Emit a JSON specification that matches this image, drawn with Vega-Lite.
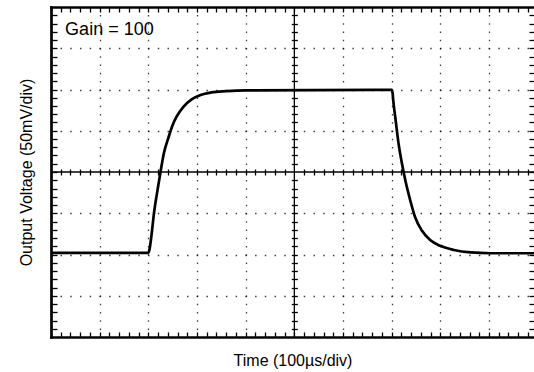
{
  "$schema": "https://vega.github.io/schema/vega-lite/v6.json",
  "width": 483,
  "height": 330,
  "autosize": "none",
  "padding": {"left": 51, "top": 7, "right": 0, "bottom": 35},
  "background": "white",
  "config": {
    "view": {"stroke": null},
    "axis": {
      "labels": false, "domain": false, "ticks": false, "grid": false,
      "tickColor": "#000", "domainColor": "#000", "tickWidth": 1.3,
      "titleFont": "Liberation Sans", "titleFontSize": 16, "titleFontWeight": "normal", "titleColor": "#000"
    }
  },
  "data": {"values": [
    {"t": 0, "v": -1.96}, {"t": 2.0, "v": -1.96}, {"t": 2.02, "v": -1.9}, {"t": 2.068, "v": -1.5},
    {"t": 2.116, "v": -1.0}, {"t": 2.18, "v": -0.5}, {"t": 2.25, "v": 0}, {"t": 2.32, "v": 0.46},
    {"t": 2.41, "v": 0.82}, {"t": 2.49, "v": 1.11}, {"t": 2.58, "v": 1.34}, {"t": 2.72, "v": 1.58},
    {"t": 2.89, "v": 1.76}, {"t": 3.06, "v": 1.86}, {"t": 3.3, "v": 1.93}, {"t": 3.6, "v": 1.96},
    {"t": 4.0, "v": 1.98}, {"t": 7.0, "v": 1.99}, {"t": 7.02, "v": 1.9}, {"t": 7.03, "v": 1.76},
    {"t": 7.08, "v": 1.27}, {"t": 7.14, "v": 0.7}, {"t": 7.21, "v": 0.21}, {"t": 7.28, "v": -0.2},
    {"t": 7.38, "v": -0.68}, {"t": 7.48, "v": -1.09}, {"t": 7.62, "v": -1.42}, {"t": 7.79, "v": -1.65},
    {"t": 8.0, "v": -1.79}, {"t": 8.28, "v": -1.89}, {"t": 8.62, "v": -1.95}, {"t": 9.03, "v": -1.97},
    {"t": 10, "v": -1.97}
  ]},
  "resolve": {"axis": {"x": "independent", "y": "independent"}},
  "layer": [
    {
      "mark": {"type": "point", "opacity": 0},
      "encoding": {
        "x": {"field": "t", "type": "quantitative", "scale": {"domain": [0, 9.924], "nice": false, "zero": false},
          "axis": {"orient": "bottom", "title": null, "grid": true, "values": [1,2,3,4,6,7,8,9],
            "gridDash": [1.5, 6.75], "gridDashOffset": 0.75, "gridColor": "#000", "gridWidth": 1.3, "gridOpacity": 0.75}},
        "y": {"field": "v", "type": "quantitative", "scale": {"domain": [-4, 4], "nice": false, "zero": false},
          "axis": {"orient": "left", "title": null, "grid": true, "values": [-3,-2,-1,1,2,3],
            "gridDash": [1.5, 8.23], "gridDashOffset": 0.75, "gridColor": "#000", "gridWidth": 1.3, "gridOpacity": 0.75}}
      }
    },
    {
      "mark": {"type": "point", "opacity": 0},
      "encoding": {
        "x": {"field": "t", "type": "quantitative", "scale": {"domain": [0, 9.924], "nice": false, "zero": false},
          "axis": {"orient": "bottom", "title": "Time (100µs/div)", "titlePadding": 15, "titleFontSize": 16,
            "domain": true, "domainWidth": 2.7, "domainCap": "square"}},
        "y": {"field": "v", "type": "quantitative", "scale": {"domain": [-4, 4], "nice": false, "zero": false},
          "axis": {"orient": "left", "title": "Output Voltage (50mV/div)", "titlePadding": 17, "titleFontSize": 16,
            "domain": true, "domainWidth": 2.7, "domainCap": "square"}}
      }
    },
    {
      "mark": {"type": "point", "opacity": 0},
      "encoding": {
        "x": {"field": "t", "type": "quantitative", "scale": {"domain": [0, 9.924], "nice": false, "zero": false},
          "axis": {"orient": "bottom", "title": null, "offset": -5, "ticks": true, "tickSize": 5,
            "values": [0.2,0.4,0.6,0.8,1,1.2,1.4,1.6,1.8,2,2.2,2.4,2.6,2.8,3,3.2,3.4,3.6,3.8,4,4.2,4.4,4.6,4.8,5,5.2,5.4,5.6,5.8,6,6.2,6.4,6.6,6.8,7,7.2,7.4,7.6,7.8,8,8.2,8.4,8.6,8.8,9,9.2,9.4,9.6,9.8]}},
        "y": {"field": "v", "type": "quantitative", "scale": {"domain": [-4, 4], "nice": false, "zero": false},
          "axis": {"orient": "left", "title": null, "offset": -6, "ticks": true, "tickSize": 6,
            "values": [-3.8,-3.6,-3.4,-3.2,-3,-2.8,-2.6,-2.4,-2.2,-2,-1.8,-1.6,-1.4,-1.2,-1,-0.8,-0.6,-0.4,-0.2,0,0.2,0.4,0.6,0.8,1,1.2,1.4,1.6,1.8,2,2.2,2.4,2.6,2.8,3,3.2,3.4,3.6,3.8]}}
      }
    },
    {
      "mark": {"type": "point", "opacity": 0},
      "encoding": {
        "x": {"field": "t", "type": "quantitative", "scale": {"domain": [0, 9.924], "nice": false, "zero": false},
          "axis": {"orient": "top", "title": null, "domain": true, "domainWidth": 2.7, "domainCap": "square"}},
        "y": {"field": "v", "type": "quantitative", "scale": {"domain": [-4, 4], "nice": false, "zero": false},
          "axis": {"orient": "right", "title": null, "offset": -5, "ticks": true, "tickSize": 5,
            "values": [-3.8,-3.6,-3.4,-3.2,-3,-2.8,-2.6,-2.4,-2.2,-2,-1.8,-1.6,-1.4,-1.2,-1,-0.8,-0.6,-0.4,-0.2,0,0.2,0.4,0.6,0.8,1,1.2,1.4,1.6,1.8,2,2.2,2.4,2.6,2.8,3,3.2,3.4,3.6,3.8]}}
      }
    },
    {
      "mark": {"type": "point", "opacity": 0},
      "encoding": {
        "x": {"field": "t", "type": "quantitative", "scale": {"domain": [0, 9.924], "nice": false, "zero": false},
          "axis": {"orient": "top", "title": null, "offset": -5, "ticks": true, "tickSize": 5,
            "values": [0.2,0.4,0.6,0.8,1,1.2,1.4,1.6,1.8,2,2.2,2.4,2.6,2.8,3,3.2,3.4,3.6,3.8,4,4.2,4.4,4.6,4.8,5,5.2,5.4,5.6,5.8,6,6.2,6.4,6.6,6.8,7,7.2,7.4,7.6,7.8,8,8.2,8.4,8.6,8.8,9,9.2,9.4,9.6,9.8]}},
        "y": {"field": "v", "type": "quantitative", "scale": {"domain": [-4, 4], "nice": false, "zero": false},
          "axis": {"orient": "left", "title": null, "offset": -246.35, "ticks": true, "tickSize": 6,
            "values": [-3.8,-3.6,-3.4,-3.2,-3,-2.8,-2.6,-2.4,-2.2,-2,-1.8,-1.6,-1.4,-1.2,-1,-0.8,-0.6,-0.4,-0.2,0.2,0.4,0.6,0.8,1,1.2,1.4,1.6,1.8,2,2.2,2.4,2.6,2.8,3,3.2,3.4,3.6,3.8]}}
      }
    },
    {
      "mark": {"type": "point", "opacity": 0},
      "encoding": {
        "x": {"field": "t", "type": "quantitative", "scale": {"domain": [0, 9.924], "nice": false, "zero": false},
          "axis": {"orient": "bottom", "title": null, "offset": -168, "ticks": true, "tickSize": 6,
            "values": [0.2,0.4,0.6,0.8,1,1.2,1.4,1.6,1.8,2,2.2,2.4,2.6,2.8,3,3.2,3.4,3.6,3.8,4,4.2,4.4,4.6,4.8,5.2,5.4,5.6,5.8,6,6.2,6.4,6.6,6.8,7,7.2,7.4,7.6,7.8,8,8.2,8.4,8.6,8.8,9,9.2,9.4,9.6,9.8]}},
        "y": {"field": "v", "type": "quantitative", "scale": {"domain": [-4, 4], "nice": false, "zero": false}, "axis": null}
      }
    },
    {
      "data": {"values": [{}]},
      "mark": {"type": "rule", "color": "#000", "strokeWidth": 1.3},
      "encoding": {"y": {"datum": 0, "type": "quantitative", "scale": {"domain": [-4, 4], "nice": false, "zero": false}, "axis": null}}
    },
    {
      "data": {"values": [{}]},
      "mark": {"type": "rule", "color": "#000", "strokeWidth": 1.3},
      "encoding": {"x": {"datum": 5, "type": "quantitative", "scale": {"domain": [0, 9.924], "nice": false, "zero": false}, "axis": null}}
    },
    {
      "data": {"values": [{"label": "Gain = 100"}]},
      "mark": {"type": "text", "align": "left", "baseline": "alphabetic", "font": "Liberation Sans", "fontSize": 18, "color": "#000"},
      "encoding": {
        "x": {"datum": 0.29, "type": "quantitative", "scale": {"domain": [0, 9.924], "nice": false, "zero": false}, "axis": null},
        "y": {"datum": 3.32, "type": "quantitative", "scale": {"domain": [-4, 4], "nice": false, "zero": false}, "axis": null},
        "text": {"field": "label"}
      }
    },
    {
      "mark": {"type": "line", "color": "#000", "strokeWidth": 2.7, "interpolate": "monotone", "clip": true},
      "encoding": {
        "x": {"field": "t", "type": "quantitative", "scale": {"domain": [0, 9.924], "nice": false, "zero": false}, "axis": null},
        "y": {"field": "v", "type": "quantitative", "scale": {"domain": [-4, 4], "nice": false, "zero": false}, "axis": null}
      }
    }
  ]
}
